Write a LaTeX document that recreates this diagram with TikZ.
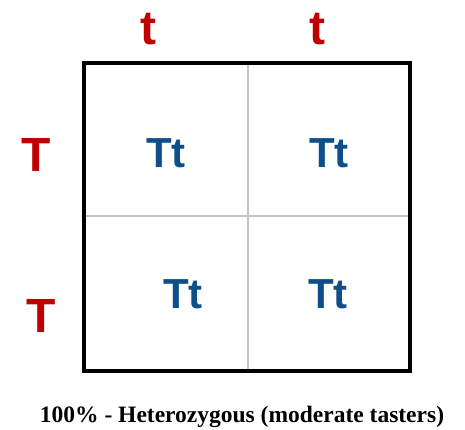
\documentclass[tikz,border=0pt]{standalone}
\usepackage{fontspec}
\setmainfont{Liberation Serif}
\newfontfamily\arialfont{Liberation Sans}
\definecolor{allelered}{HTML}{C00000}
\definecolor{genoblue}{HTML}{0D4F8B}
\definecolor{gridgray}{HTML}{C4C4C4}
\begin{document}
\begin{tikzpicture}[x=1pt,y=-1pt,
  allele/.style={inner sep=0pt,anchor=base,text=allelered,font=\arialfont\bfseries\fontsize{48}{48}\selectfont},
  geno/.style={inner sep=0pt,anchor=base,text=genoblue,font=\arialfont\bfseries\fontsize{42}{42}\selectfont},
  caption/.style={inner sep=0pt,anchor=base,font=\bfseries\fontsize{23.5}{23.5}\selectfont},
  frame/.style={draw=black,line width=4.5pt},
  gridline/.style={draw=gridgray,line width=1.5pt}]
\useasboundingbox (0,0) rectangle (465,430);
\coordinate (tl) at (84,63);
\coordinate (br) at (410,371);
\coordinate (vt) at (248,63);
\coordinate (vb) at (248,371);
\coordinate (hl) at (84,216);
\coordinate (hr) at (410,216);
\draw[gridline] (vt) -- (vb);
\draw[gridline] (hl) -- (hr);
\draw[frame] (tl) rectangle (br);
\node[allele] (t1) at (148,45) {t};
\node[allele] (t2) at (317,45) {t};
\node[allele] (T1) at (36,172) {T};
\node[allele] (T2) at (41,332) {T};
\node[geno] (g11) at (166,168) {Tt};
\node[geno] (g12) at (329,168) {Tt};
\node[geno] (g21) at (183,308) {Tt};
\node[geno] (g22) at (328,308) {Tt};
\node[caption] (cap) at (242,422) {100\% - Heterozygous (moderate tasters)};
\end{tikzpicture}
\end{document}
